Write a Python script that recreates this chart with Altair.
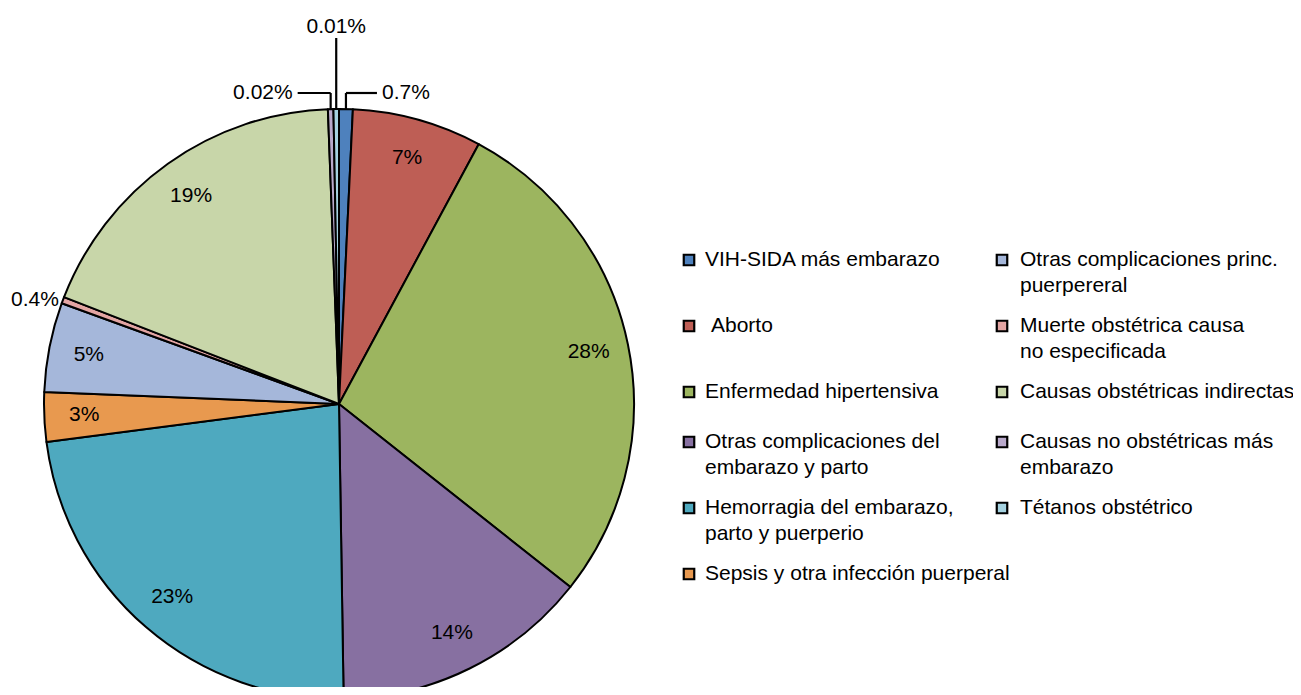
import math
import altair as alt
import pandas as pd

# ---------------- data ----------------
causes = [
    "VIH-SIDA más embarazo",
    "Aborto",
    "Enfermedad hipertensiva",
    "Otras complicaciones del embarazo y parto",
    "Hemorragia del embarazo, parto y puerperio",
    "Sepsis y otra infección puerperal",
    "Otras complicaciones princ. puerpereral",
    "Muerte obstétrica causa no especificada",
    "Causas obstétricas indirectas",
    "Causas no obstétricas más embarazo",
    "Tétanos obstétrico",
]
values = [0.75, 7.1, 27.8, 14.1, 23.2, 2.7, 4.9, 0.35, 18.5, 0.3, 0.3]
pct_labels = ["0.7%", "7%", "28%", "14%", "23%", "3%", "5%", "0.4%", "19%", "0.02%", "0.01%"]
legend_lines = [
    ["VIH-SIDA más embarazo"],
    ["Aborto"],
    ["Enfermedad hipertensiva"],
    ["Otras complicaciones del", "embarazo y parto"],
    ["Hemorragia del embarazo,", "parto y puerperio"],
    ["Sepsis y otra infección puerperal"],
    ["Otras complicaciones princ.", "puerpereral"],
    ["Muerte obstétrica causa", "no especificada"],
    ["Causas obstétricas indirectas"],
    ["Causas no obstétricas más", "embarazo"],
    ["Tétanos obstétrico"],
]
colors = [
    "#4E81BD", "#BE5E55", "#9CB55F", "#8770A1", "#4EA9BF", "#E8994F",
    "#A5B7DA", "#E3A5A3", "#C8D6A9", "#B9A9CB", "#A5D2E0",
]
# placement of labels drawn outside the pie (style, keyed by cause)
outer_style = {
    "VIH-SIDA más embarazo": "right",
    "Muerte obstétrica causa no especificada": "left",
    "Causas no obstétricas más embarazo": "upleft",
    "Tétanos obstétrico": "up",
}
# legend label indent (the original label has a leading space)
legend_indent = {"Aborto": 6}

# ---------------- layout ----------------
W, H = 1285, 679
CX, CY, R = 331, 396, 295
LABEL_R = 255
FONT = "Liberation Sans"
FS = 21

total = sum(values)
rows = []
start = 0.0
for i, (c, v, p) in enumerate(zip(causes, values, pct_labels)):
    rows.append({"cause": c, "value": v, "idx": i,
                 "inner": "" if c in outer_style else p,
                 "start": start, "end": start + v})
    start += v
df = pd.DataFrame(rows)

# leader lines and outside labels computed from slice angles
rule_rows, txt_left, txt_right, txt_center = [], [], [], []
elbow_y = CY - R - 16
top_y = CY - R - 71
for r in rows:
    style = outer_style.get(r["cause"])
    if not style:
        continue
    mid = (r["start"] + r["end"]) / 2 / total * 2 * math.pi
    ex = CX + R * math.sin(mid)
    ey = CY - R * math.cos(mid)
    lab = pct_labels[r["idx"]]
    if style == "right":
        rule_rows.append({"x": ex, "y": ey, "x2": ex, "y2": elbow_y})
        rule_rows.append({"x": ex, "y": elbow_y, "x2": ex + 31, "y2": elbow_y})
        txt_left.append({"x": ex + 36, "y": elbow_y, "t": lab})
    elif style == "upleft":
        rule_rows.append({"x": ex, "y": ey, "x2": ex, "y2": elbow_y})
        rule_rows.append({"x": ex - 33, "y": elbow_y, "x2": ex, "y2": elbow_y})
        txt_right.append({"x": ex - 38, "y": elbow_y, "t": lab})
    elif style == "up":
        rule_rows.append({"x": ex, "y": ey, "x2": ex, "y2": top_y})
        txt_center.append({"x": ex, "y": top_y - 11, "t": lab})
    elif style == "left":
        txt_right.append({"x": ex - 4, "y": ey, "t": lab})

# legend (column-major, 6 rows in first column)
N_ROWS = 6
LEG_X_SQ = [681, 994]
LEG_X_TX = [697, 1012]
LEG_Y0 = 252
LINE_H = 26
row_lines = [0] * N_ROWS
for i, ll in enumerate(legend_lines):
    row_lines[i % N_ROWS] = max(row_lines[i % N_ROWS], len(ll))
row_y = []
y = LEG_Y0
for n in row_lines:
    row_y.append(y)
    y += 34 + 16 * n
leg_sq, leg_tx = [], []
for i, (c, ll) in enumerate(zip(causes, legend_lines)):
    col, row = i // N_ROWS, i % N_ROWS
    leg_sq.append({"cause": c, "x": LEG_X_SQ[col], "y": row_y[row]})
    for k, line in enumerate(ll):
        leg_tx.append({"x": LEG_X_TX[col] + legend_indent.get(c, 0),
                       "y": row_y[row] + k * LINE_H, "t": line})

color_scale = alt.Scale(domain=causes, range=colors)

# ---------------- chart ----------------
base = alt.Chart(df)
arcs = base.mark_arc(stroke="black", strokeWidth=2, strokeJoin="round").encode(
    theta=alt.Theta("value:Q", stack=True),
    order=alt.Order("idx:Q"),
    color=alt.Color("cause:N", scale=color_scale, legend=None),
    x=alt.value(CX), y=alt.value(CY), radius=alt.value(R),
)
inner_text = base.mark_text(font=FONT, fontSize=FS, color="black").encode(
    theta=alt.Theta("value:Q", stack=True),
    order=alt.Order("idx:Q"),
    text=alt.Text("inner:N"),
    x=alt.value(CX), y=alt.value(CY), radius=alt.value(LABEL_R),
)
rules = alt.Chart(pd.DataFrame(rule_rows)).mark_rule(color="black", strokeWidth=2.2).encode(
    x=alt.X("x:Q", scale=None), y=alt.Y("y:Q", scale=None),
    x2="x2:Q", y2="y2:Q",
)

def txt(data, align):
    return alt.Chart(pd.DataFrame(data)).mark_text(
        font=FONT, fontSize=FS, color="black", align=align, baseline="middle"
    ).encode(x=alt.X("x:Q", scale=None), y=alt.Y("y:Q", scale=None), text="t:N")

legend_sq = alt.Chart(pd.DataFrame(leg_sq)).mark_square(
    size=110, filled=True, stroke="black", strokeWidth=2.2, opacity=1
).encode(
    x=alt.X("x:Q", scale=None), y=alt.Y("y:Q", scale=None),
    color=alt.Color("cause:N", scale=color_scale, legend=None),
)
legend_tx = txt(leg_tx, "left")

chart = alt.layer(
    arcs, inner_text, rules,
    txt(txt_left, "left"), txt(txt_right, "right"), txt(txt_center, "center"),
    legend_sq, legend_tx,
).properties(
    width=W, height=H, autosize="none", padding=0, background="white"
).configure_view(stroke=None)

chart.save("out.html", embed_options={"renderer": "svg", "actions": False})
